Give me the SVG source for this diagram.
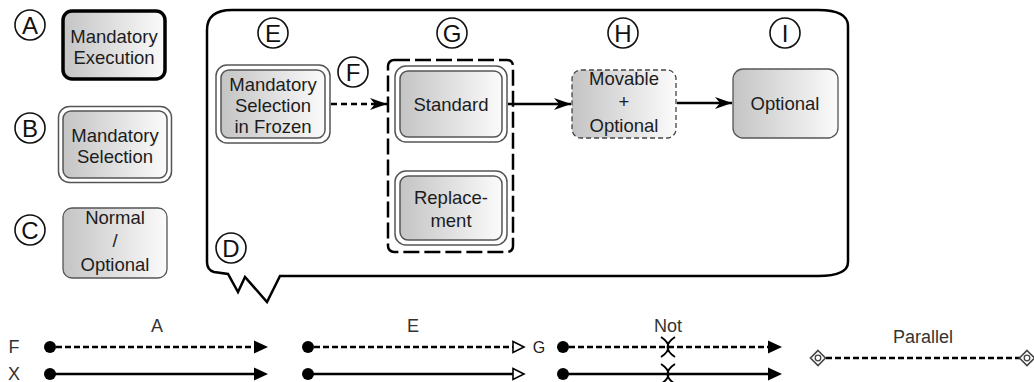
<svg xmlns="http://www.w3.org/2000/svg" width="1034" height="382" viewBox="0 0 1034 382">
  <defs>
    <linearGradient id="boxFill" x1="0" y1="0" x2="1" y2="0">
      <stop offset="0" stop-color="#c4c4c4"/>
      <stop offset="1" stop-color="#fbfbfb"/>
    </linearGradient>
    <marker id="barb" markerUnits="userSpaceOnUse" markerWidth="18" markerHeight="14" refX="17" refY="6.5" orient="auto">
      <path d="M0,0.5 L17,6.5 L0,12.5 L5,6.5 Z" fill="#000"/>
    </marker>
  </defs>
  <style>
    text { font-family: "Liberation Sans", Arial, sans-serif; fill: #1c1c1c; }
    .lbl { font-size: 18.5px; text-anchor: middle; }
    .tag circle { fill: #fff; stroke: #111; stroke-width: 1.6; }
    .tag text { font-size: 24px; text-anchor: middle; fill: #111; }
    .body { fill: url(#boxFill); }
    .plain { stroke: #555; stroke-width: 1.3; }
    .heavy { stroke: #000; stroke-width: 3.5; }
    .outer { fill: #fff; stroke: #555; stroke-width: 1.5; }
    .inner { stroke: #555; stroke-width: 1.5; }
    .dashbox { stroke: #444; stroke-width: 1.3; stroke-dasharray: 5 3; }
    .link { fill: none; stroke: #000; stroke-width: 2.3; }
    .dotted { stroke-dasharray: 6 4; }
    .leg { fill: none; stroke: #000; stroke-width: 2.4; }
    .legdash { stroke-dasharray: 6 3; }
    .legtxt { font-size: 18px; text-anchor: middle; fill: #333; }
  </style>

  <!-- legend of node kinds -->
  <g id="tag-A" class="tag"><circle cx="30" cy="25" r="15"/><text x="30" y="33.5">A</text></g>
  <g id="node-mandatory-execution">
    <rect class="body heavy" x="63" y="11" width="102" height="68" rx="9"/>
    <text class="lbl" x="114" y="43">Mandatory</text>
    <text class="lbl" x="114" y="64">Execution</text>
  </g>

  <g id="tag-B" class="tag"><circle cx="30" cy="128" r="15"/><text x="30" y="136.5">B</text></g>
  <g id="node-mandatory-selection">
    <rect class="outer" x="58.5" y="106.5" width="113" height="76" rx="11"/>
    <rect class="body inner" x="63" y="111" width="104" height="67" rx="8"/>
    <text class="lbl" x="115" y="142">Mandatory</text>
    <text class="lbl" x="115" y="163">Selection</text>
  </g>

  <g id="tag-C" class="tag"><circle cx="30" cy="230" r="15"/><text x="30" y="238.5">C</text></g>
  <g id="node-normal-optional">
    <rect class="body plain" x="63" y="208" width="104" height="70" rx="9"/>
    <text class="lbl" x="115" y="224">Normal</text>
    <text class="lbl" x="115" y="247">/</text>
    <text class="lbl" x="115" y="271">Optional</text>
  </g>

  <!-- callout frame -->
  <g id="callout">
    <path d="M207,30 Q207,10 232,10 L818,10 Q848,10 848,26 L848,262 Q848,276 818,276 L280,276 L267,302 L245,277 L238,292 L228,274 L214,272 Q207,270 207,262 Z" fill="#fff" stroke="#000" stroke-width="2.5" stroke-linejoin="miter"/>
  </g>
  <g id="tag-D" class="tag"><circle cx="231" cy="248" r="15"/><text x="231" y="256.5">D</text></g>

  <!-- flow nodes -->
  <g id="tag-E" class="tag"><circle cx="273" cy="33" r="15"/><text x="273" y="41.5">E</text></g>
  <g id="node-frozen">
    <rect class="outer" x="216" y="65" width="114" height="78" rx="11"/>
    <rect class="body inner" x="221" y="70" width="104" height="68" rx="8"/>
    <text class="lbl" x="273" y="91">Mandatory</text>
    <text class="lbl" x="273" y="112">Selection</text>
    <text class="lbl" x="273" y="133">in Frozen</text>
  </g>

  <g id="tag-F" class="tag"><circle cx="353" cy="72" r="15"/><text x="353" y="80.5">F</text></g>

  <g id="tag-G" class="tag"><circle cx="452" cy="33" r="15"/><text x="452" y="41.5">G</text></g>
  <g id="group-G">
    <rect x="388" y="60" width="125" height="192" rx="6" fill="none" stroke="#000" stroke-width="2.5" stroke-dasharray="16 5"/>
  </g>
  <g id="node-standard">
    <rect class="outer" x="395" y="66" width="112" height="76" rx="11"/>
    <rect class="body inner" x="400" y="71" width="102" height="66" rx="8"/>
    <text class="lbl" x="451" y="111">Standard</text>
  </g>
  <g id="node-replacement">
    <rect class="outer" x="395" y="171" width="112" height="74" rx="11"/>
    <rect class="body inner" x="400" y="176" width="102" height="64" rx="8"/>
    <text class="lbl" x="451" y="204">Replace-</text>
    <text class="lbl" x="451" y="227">ment</text>
  </g>

  <g id="tag-H" class="tag"><circle cx="623" cy="33" r="15"/><text x="623" y="41.5">H</text></g>
  <g id="node-movable">
    <rect class="body dashbox" x="572" y="70" width="104" height="68" rx="9"/>
    <text class="lbl" x="624" y="85">Movable</text>
    <text class="lbl" x="624" y="108">+</text>
    <text class="lbl" x="624" y="132">Optional</text>
  </g>

  <g id="tag-I" class="tag"><circle cx="785" cy="33" r="15"/><text x="785" y="41.5">I</text></g>
  <g id="node-optional">
    <rect class="body plain" x="733" y="69" width="105" height="69" rx="10"/>
    <text class="lbl" x="785" y="110">Optional</text>
  </g>

  <!-- connectors -->
  <g id="connectors">
    <line class="link dotted" x1="331" y1="104" x2="387" y2="104" marker-end="url(#barb)"/>
    <line class="link" x1="508" y1="104" x2="571" y2="104" marker-end="url(#barb)"/>
    <line class="link" x1="677" y1="103" x2="732" y2="103" marker-end="url(#barb)"/>
  </g>

  <!-- line legend -->
  <g id="legend-lines">
    <text class="legtxt" x="14" y="353">F</text>
    <text class="legtxt" x="14" y="380">X</text>

    <text class="legtxt" x="157" y="332">A</text>
    <circle cx="50" cy="347" r="6" fill="#000"/>
    <line class="leg legdash" x1="56" y1="347" x2="256" y2="347"/>
    <path d="M254,340.5 L268,347 L254,353.5 Z" fill="#000"/>
    <circle cx="50" cy="374" r="6" fill="#000"/>
    <line class="leg" x1="50" y1="374" x2="256" y2="374"/>
    <path d="M254,367.5 L268,374 L254,380.5 Z" fill="#000"/>

    <text class="legtxt" x="413" y="332">E</text>
    <circle cx="308" cy="347" r="6" fill="#000"/>
    <line class="leg legdash" x1="314" y1="347" x2="513" y2="347"/>
    <path d="M513,341.5 L524,347 L513,352.5 Z" fill="#fff" stroke="#000" stroke-width="1.6"/>
    <circle cx="308" cy="374" r="6" fill="#000"/>
    <line class="leg" x1="308" y1="374" x2="513" y2="374"/>
    <path d="M513,368.5 L524,374 L513,379.5 Z" fill="#fff" stroke="#000" stroke-width="1.6"/>
    <text x="539" y="353" font-size="16" text-anchor="middle" fill="#333">G</text>

    <text class="legtxt" x="668" y="332">Not</text>
    <circle cx="563" cy="347" r="6" fill="#000"/>
    <line class="leg legdash" x1="569" y1="347" x2="770" y2="347"/>
    <path d="M768,340.5 L782,347 L768,353.5 Z" fill="#000"/>
    <path d="M661,337 Q676,347 661,357 M675,337 Q660,347 675,357" fill="none" stroke="#000" stroke-width="1.9"/>
    <circle cx="563" cy="374" r="6" fill="#000"/>
    <line class="leg" x1="563" y1="374" x2="770" y2="374"/>
    <path d="M768,367.5 L782,374 L768,380.5 Z" fill="#000"/>
    <path d="M661,364 Q676,374 661,384 M675,364 Q660,374 675,384" fill="none" stroke="#000" stroke-width="1.9"/>

    <text class="legtxt" x="923" y="343">Parallel</text>
    <line class="leg legdash" x1="826" y1="358" x2="1020" y2="358"/>
    <path d="M818,350.5 L825.5,358 L818,365.5 L810.5,358 Z" fill="#fff" stroke="#444" stroke-width="1.6"/>
    <circle cx="818" cy="358" r="2.8" fill="none" stroke="#444" stroke-width="1.3"/>
    <path d="M1027,350.5 L1034.5,358 L1027,365.5 L1019.5,358 Z" fill="#fff" stroke="#444" stroke-width="1.6"/>
    <circle cx="1027" cy="358" r="2.8" fill="none" stroke="#444" stroke-width="1.3"/>
  </g>
</svg>
